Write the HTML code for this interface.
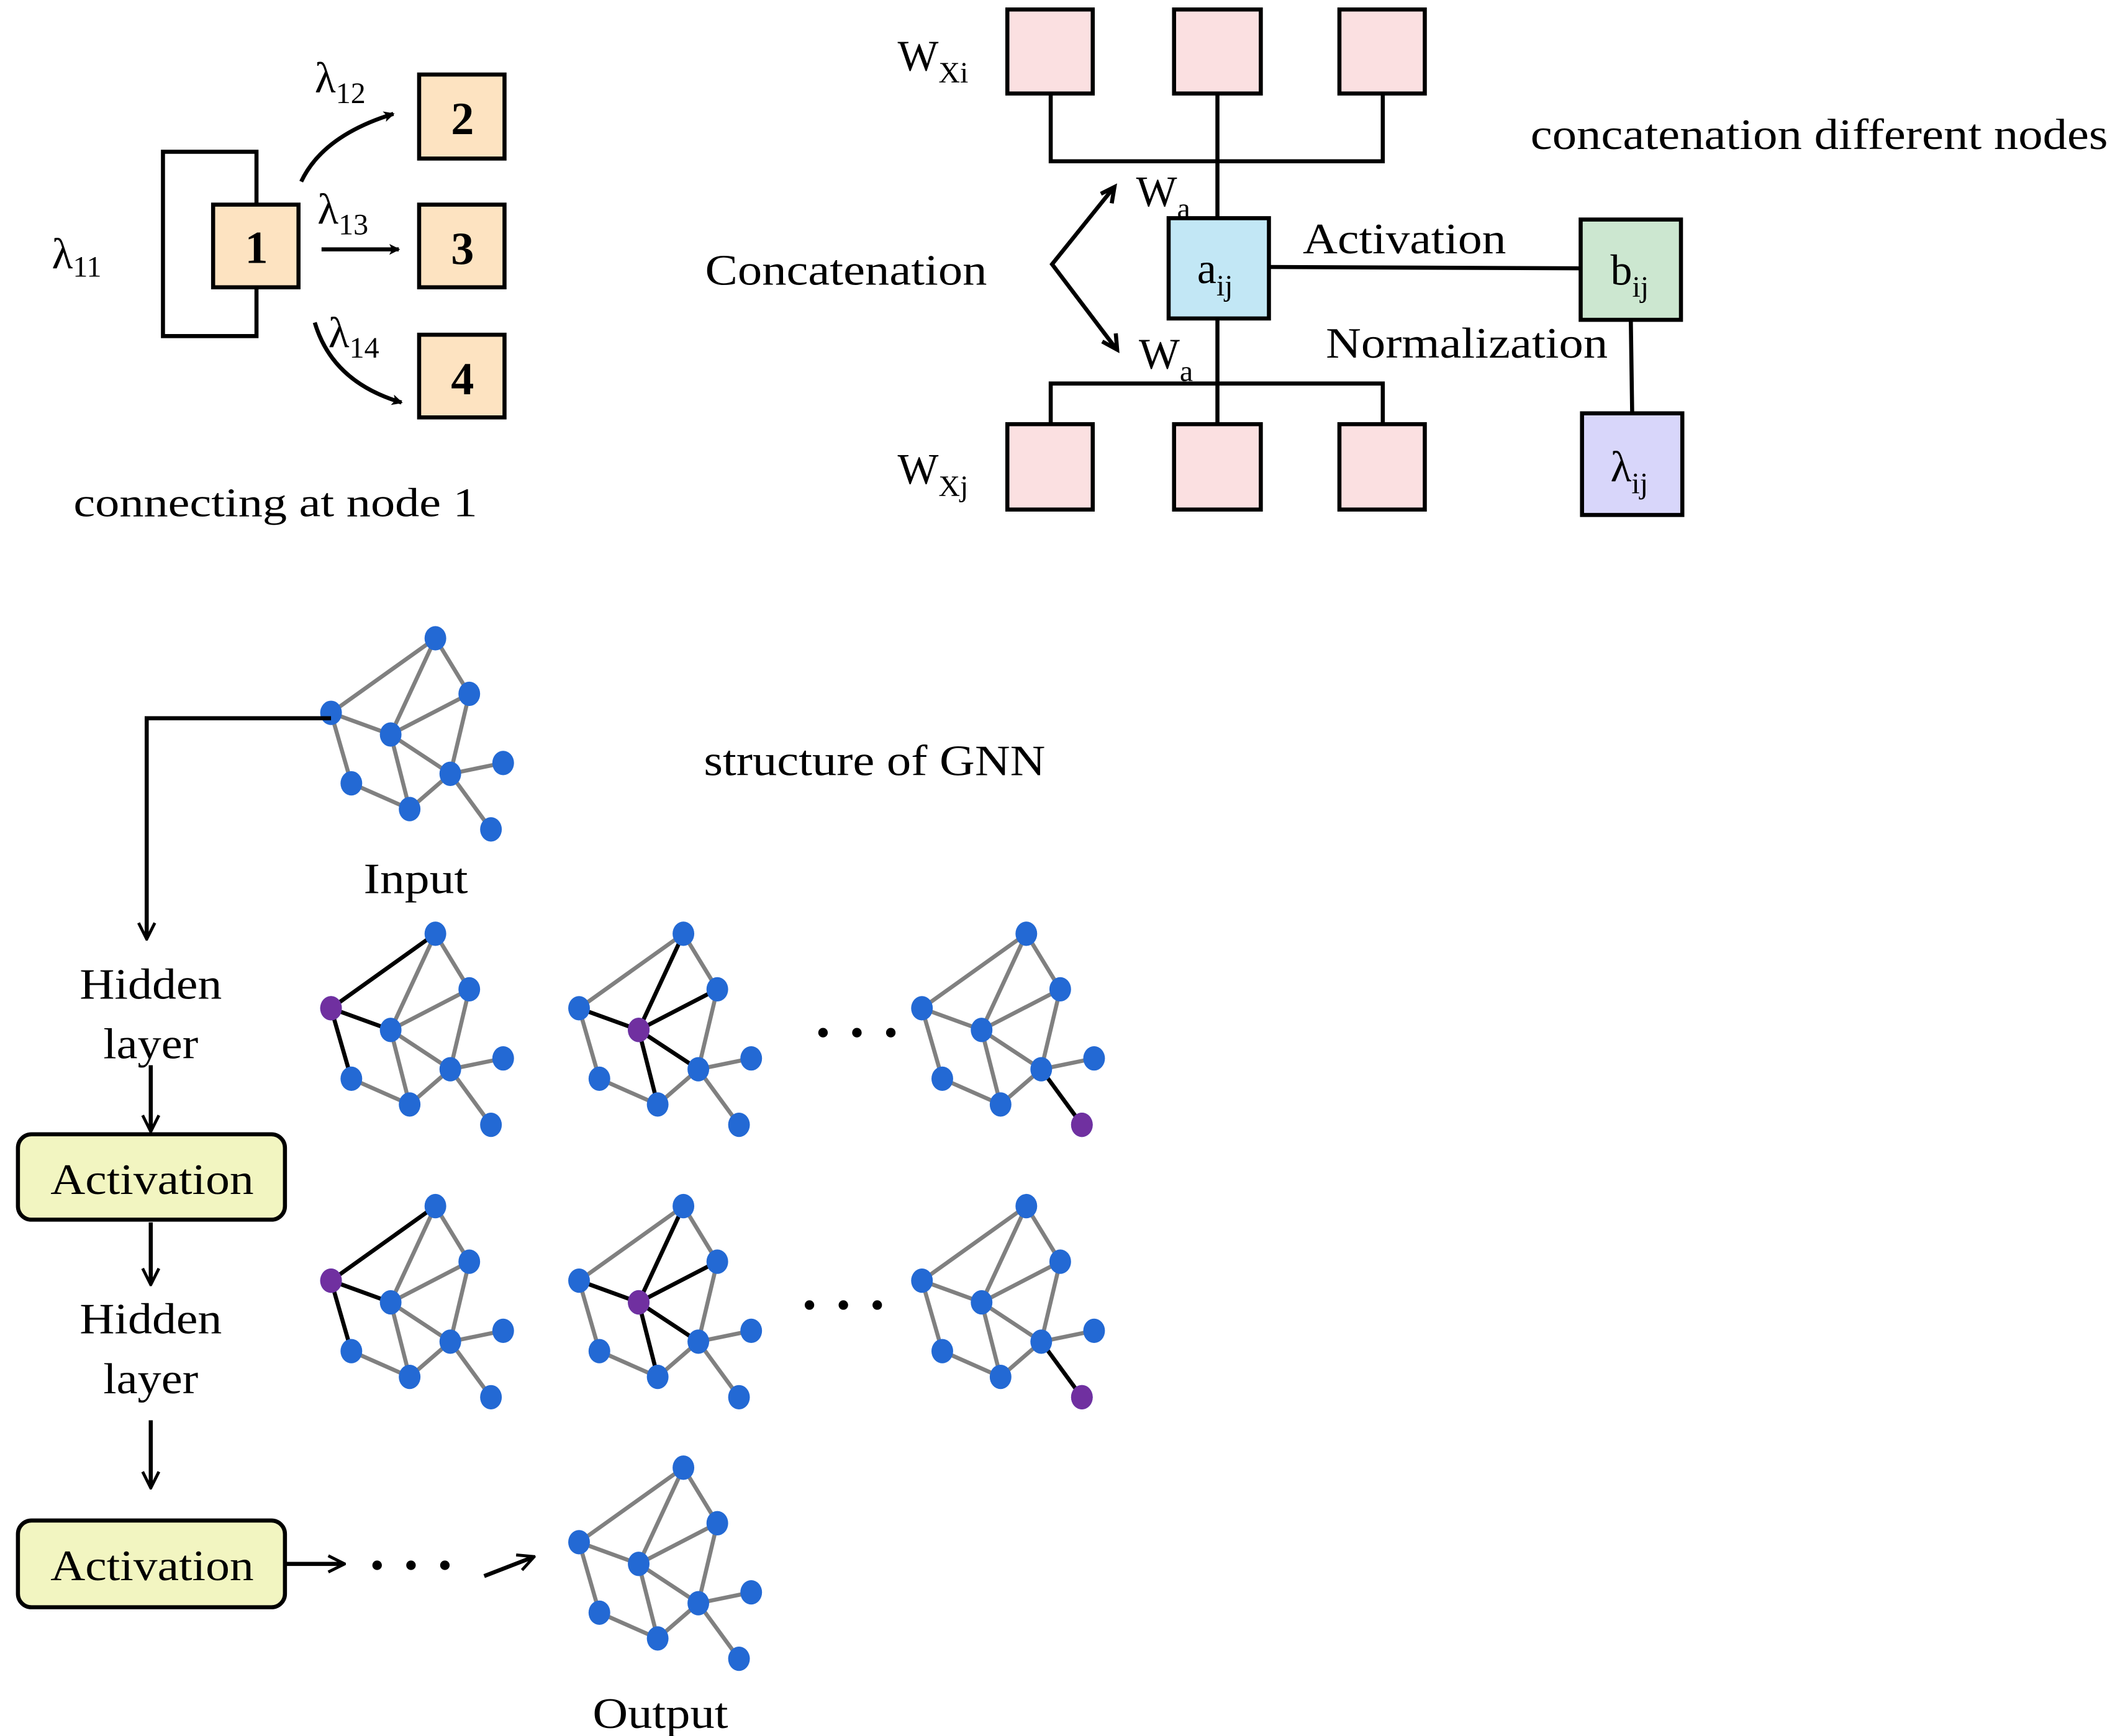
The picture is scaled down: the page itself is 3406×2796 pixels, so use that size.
<!DOCTYPE html>
<html><head><meta charset="utf-8"><style>html,body{margin:0;padding:0;background:#fff}svg{display:block}</style></head>
<body>
<svg width="3406" height="2796" viewBox="0 0 1560 1281" xmlns="http://www.w3.org/2000/svg" font-family="'Liberation Serif', serif">
<defs>
<marker id="ah" markerWidth="8" markerHeight="8" refX="7" refY="4" orient="auto" markerUnits="userSpaceOnUse" viewBox="0 0 8 8"><path d="M0,0 L8,4 L0,8 L2,4 Z" fill="#000"/></marker>
<marker id="ah2" markerWidth="14" markerHeight="14" refX="12" refY="7" orient="auto" markerUnits="userSpaceOnUse"><path d="M1,1 L13,7 L1,13" fill="none" stroke="#000" stroke-width="2.2"/></marker>
<g id="ge" stroke="#808080" stroke-width="3">
<line x1="0" y1="0" x2="-77" y2="55"/><line x1="0" y1="0" x2="-33" y2="71"/><line x1="0" y1="0" x2="25" y2="41"/>
<line x1="25" y1="41" x2="-33" y2="71"/><line x1="25" y1="41" x2="11" y2="100"/><line x1="-77" y1="55" x2="-33" y2="71"/>
<line x1="-77" y1="55" x2="-62" y2="107"/><line x1="-33" y1="71" x2="11" y2="100"/><line x1="-33" y1="71" x2="-19" y2="126"/>
<line x1="-62" y1="107" x2="-19" y2="126"/><line x1="-19" y1="126" x2="11" y2="100"/><line x1="11" y1="100" x2="50" y2="92"/>
<line x1="11" y1="100" x2="41" y2="141"/>
</g>
<g id="gn" fill="#2369d4">
<ellipse cx="0" cy="0" rx="8" ry="9"/><ellipse cx="25" cy="41" rx="8" ry="9"/><ellipse cx="-77" cy="55" rx="8" ry="9"/>
<ellipse cx="-33" cy="71" rx="8" ry="9"/><ellipse cx="11" cy="100" rx="8" ry="9"/><ellipse cx="50" cy="92" rx="8" ry="9"/>
<ellipse cx="-62" cy="107" rx="8" ry="9"/><ellipse cx="-19" cy="126" rx="8" ry="9"/><ellipse cx="41" cy="141" rx="8" ry="9"/>
</g>
<g id="k1" stroke="#000" stroke-width="3"><line x1="0" y1="0" x2="-77" y2="55"/><line x1="-77" y1="55" x2="-33" y2="71"/><line x1="-77" y1="55" x2="-62" y2="107"/></g>
<g id="k2" stroke="#000" stroke-width="3"><line x1="0" y1="0" x2="-33" y2="71"/><line x1="25" y1="41" x2="-33" y2="71"/><line x1="-77" y1="55" x2="-33" y2="71"/><line x1="-33" y1="71" x2="11" y2="100"/><line x1="-33" y1="71" x2="-19" y2="126"/></g>
<g id="k3" stroke="#000" stroke-width="3"><line x1="11" y1="100" x2="41" y2="141"/></g>
</defs>

<g stroke="#000" stroke-width="3" fill="none">
<path d="M189,151 V112 H120 V248 H189 V212"/>
</g>
<g stroke="#000" stroke-width="3" fill="#fde3c1">
<rect x="157" y="151" width="63" height="61"/>
<rect x="309" y="55" width="63" height="62"/>
<rect x="309" y="151" width="63" height="61"/>
<rect x="309" y="247" width="63" height="61"/>
</g>
<g font-weight="bold" font-size="34" text-anchor="middle">
<text x="189" y="194">1</text><text x="341" y="99">2</text><text x="341" y="195">3</text><text x="341" y="291">4</text>
</g>
<g stroke="#000" stroke-width="3" fill="none">
<path d="M222,134 Q238,100 290,84" marker-end="url(#ah)"/>
<line x1="237" y1="184" x2="294" y2="184" marker-end="url(#ah)"/>
<path d="M232,238 Q245,282 296,297" marker-end="url(#ah)"/>
</g>
<g font-size="32">
<text x="38" y="198">λ<tspan font-size="22" dy="6">11</tspan></text>
<text x="232" y="68">λ<tspan font-size="22" dy="8">12</tspan></text>
<text x="234" y="165">λ<tspan font-size="22" dy="8">13</tspan></text>
<text x="242" y="256">λ<tspan font-size="22" dy="8">14</tspan></text>
<text x="54" y="381" font-size="30" textLength="298" lengthAdjust="spacingAndGlyphs">connecting at node 1</text>
</g>

<g stroke="#000" stroke-width="3" fill="none">
<path d="M775,69 V119 H1020 V69 M898,69 V161"/>
<path d="M898,235 V313 M775,313 V283 H1020 V313"/>
<line x1="936" y1="197" x2="1166" y2="198"/>
<line x1="1203" y1="236" x2="1204" y2="305"/>
<path d="M821,139 L776,195 L823,257" stroke-width="3"/>
</g>
<path d="M812,143 L822,138 L820,150" fill="none" stroke="#000" stroke-width="3"/>
<path d="M813,252 L824,258 L823,246" fill="none" stroke="#000" stroke-width="3"/>
<g stroke="#000" stroke-width="3" fill="#fbe0e1">
<rect x="743" y="7" width="63" height="62"/><rect x="866" y="7" width="64" height="62"/><rect x="988" y="7" width="63" height="62"/>
<rect x="743" y="313" width="63" height="63"/><rect x="866" y="313" width="64" height="63"/><rect x="988" y="313" width="63" height="63"/>
</g>
<rect x="862" y="161" width="74" height="74" fill="#c2e7f5" stroke="#000" stroke-width="3"/>
<rect x="1166" y="162" width="74" height="74" fill="#cce7d0" stroke="#000" stroke-width="3"/>
<rect x="1167" y="305" width="74" height="75" fill="#d8d6fa" stroke="#000" stroke-width="3"/>
<g font-size="32">
<text x="662" y="52">W<tspan font-size="22" dy="9">Xi</tspan></text>
<text x="662" y="357">W<tspan font-size="22" dy="9">Xj</tspan></text>
<text x="838" y="152">W<tspan font-size="22" dy="9">a</tspan></text>
<text x="840" y="272">W<tspan font-size="22" dy="9">a</tspan></text>
<text x="883" y="209">a<tspan font-size="22" dy="9">ij</tspan></text>
<text x="1188" y="210">b<tspan font-size="22" dy="9">ij</tspan></text>
<text x="1188" y="355">λ<tspan font-size="22" dy="9">ij</tspan></text>
<text x="520" y="210" textLength="208" lengthAdjust="spacingAndGlyphs">Concatenation</text>
<text x="961" y="187" textLength="150" lengthAdjust="spacingAndGlyphs">Activation</text>
<text x="978" y="264" textLength="208" lengthAdjust="spacingAndGlyphs">Normalization</text>
<text x="1129" y="110" textLength="426" lengthAdjust="spacingAndGlyphs">concatenation different nodes</text>
<text x="519" y="572" textLength="252" lengthAdjust="spacingAndGlyphs">structure of GNN</text>
<text x="268" y="659" textLength="77" lengthAdjust="spacingAndGlyphs">Input</text>
<text x="437" y="1275" textLength="100" lengthAdjust="spacingAndGlyphs">Output</text>
</g>

<g transform="translate(321,471)"><use href="#ge"/><use href="#gn"/></g>
<g transform="translate(321,689)"><use href="#ge"/><use href="#k1"/><use href="#gn"/><ellipse cx="-77" cy="55" rx="8" ry="9" fill="#7030a0"/></g>
<g transform="translate(504,689)"><use href="#ge"/><use href="#k2"/><use href="#gn"/><ellipse cx="-33" cy="71" rx="8" ry="9" fill="#7030a0"/></g>
<g transform="translate(757,689)"><use href="#ge"/><use href="#k3"/><use href="#gn"/><ellipse cx="41" cy="141" rx="8" ry="9" fill="#7030a0"/></g>
<g transform="translate(321,890)"><use href="#ge"/><use href="#k1"/><use href="#gn"/><ellipse cx="-77" cy="55" rx="8" ry="9" fill="#7030a0"/></g>
<g transform="translate(504,890)"><use href="#ge"/><use href="#k2"/><use href="#gn"/><ellipse cx="-33" cy="71" rx="8" ry="9" fill="#7030a0"/></g>
<g transform="translate(757,890)"><use href="#ge"/><use href="#k3"/><use href="#gn"/><ellipse cx="41" cy="141" rx="8" ry="9" fill="#7030a0"/></g>
<g transform="translate(504,1083)"><use href="#ge"/><use href="#gn"/></g>

<g fill="#000">
<circle cx="607" cy="762" r="3.5"/><circle cx="632" cy="762" r="3.5"/><circle cx="657" cy="762" r="3.5"/>
<circle cx="597" cy="963" r="3.5"/><circle cx="622" cy="963" r="3.5"/><circle cx="647" cy="963" r="3.5"/>
<circle cx="278" cy="1155" r="3.5"/><circle cx="303" cy="1155" r="3.5"/><circle cx="328" cy="1155" r="3.5"/>
</g>

<g stroke="#000" stroke-width="3" fill="none">
<path d="M244,530 H108 V692" marker-end="url(#ah2)"/>
<line x1="111" y1="786" x2="111" y2="834" marker-end="url(#ah2)"/>
<line x1="111" y1="902" x2="111" y2="947" marker-end="url(#ah2)"/>
<line x1="111" y1="1048" x2="111" y2="1097" marker-end="url(#ah2)"/>
<line x1="210" y1="1154" x2="253" y2="1154" marker-end="url(#ah2)"/>
<line x1="357" y1="1163" x2="393" y2="1149" marker-end="url(#ah2)"/>
</g>
<rect x="13" y="837" width="197" height="63" rx="10" fill="#f2f5c1" stroke="#000" stroke-width="3"/>
<rect x="13" y="1122" width="197" height="64" rx="10" fill="#f2f5c1" stroke="#000" stroke-width="3"/>
<g font-size="32" text-anchor="middle">
<text x="111" y="737" textLength="105" lengthAdjust="spacingAndGlyphs">Hidden</text><text x="111" y="781" textLength="70" lengthAdjust="spacingAndGlyphs">layer</text>
<text x="111" y="984" textLength="105" lengthAdjust="spacingAndGlyphs">Hidden</text><text x="111" y="1028" textLength="70" lengthAdjust="spacingAndGlyphs">layer</text>
<text x="112" y="881" textLength="150" lengthAdjust="spacingAndGlyphs">Activation</text>
<text x="112" y="1166" textLength="150" lengthAdjust="spacingAndGlyphs">Activation</text>
</g>
</svg>
</body></html>
